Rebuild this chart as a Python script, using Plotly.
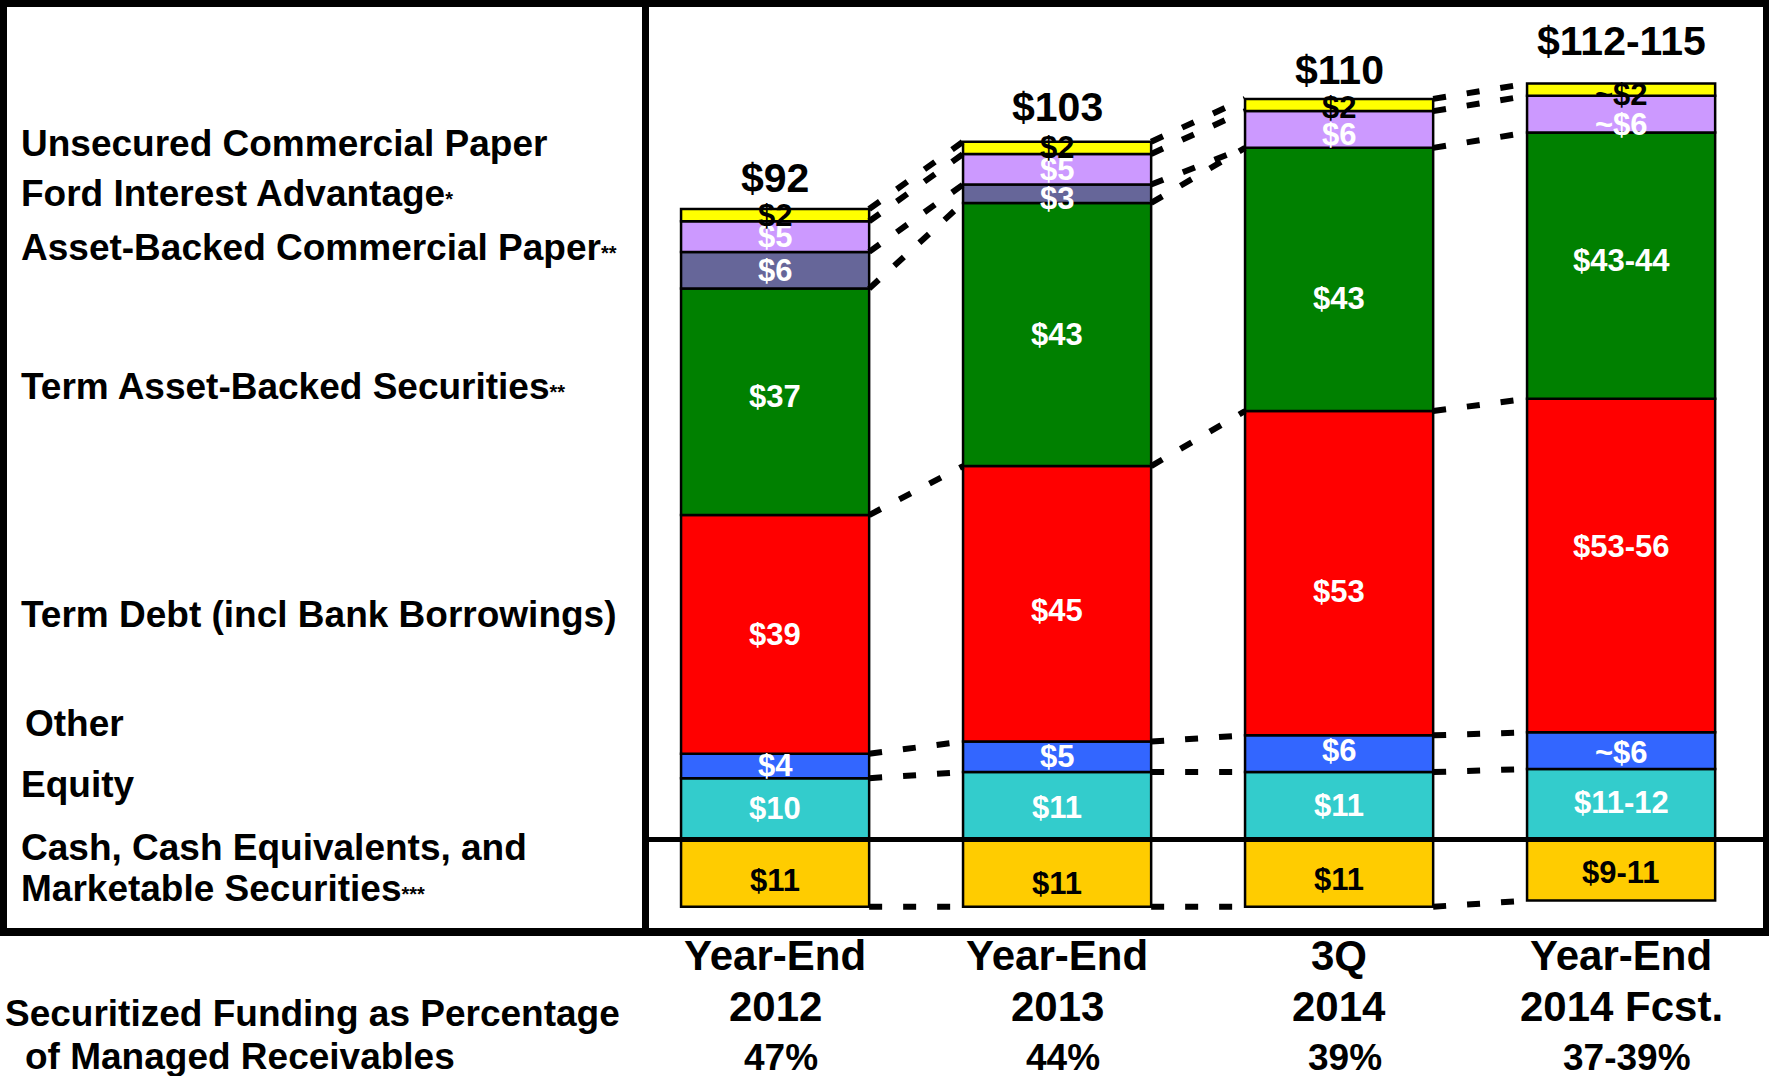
import plotly.graph_objects as go

# ---------------- data ----------------
categories_line1 = ["Year-End", "Year-End", "3Q", "Year-End"]
categories_line2 = ["2012", "2013", "2014", "2014 Fcst."]
securitized_pct = ["47%", "44%", "39%", "37-39%"]
totals = ["$92", "$103", "$110", "$112-115"]

cash = [11, 11, 11, 10]
equity = [10, 11, 11, 11.5]
other = [4, 5, 6, 6]
term_debt = [39, 45, 53, 54.5]
term_abs = [37, 43, 43, 43.5]
abcp = [6, 3, 0, 0]
fia = [5, 5, 6, 6]
ucp = [2, 2, 2, 2]

cash_lbl = ["$11", "$11", "$11", "$9-11"]
equity_lbl = ["$10", "$11", "$11", "$11-12"]
other_lbl = ["$4", "$5", "$6", "~$6"]
debt_lbl = ["$39", "$45", "$53", "$53-56"]
abs_lbl = ["$37", "$43", "$43", "$43-44"]
abcp_lbl = ["$6", "$3", "", ""]
fia_lbl = ["$5", "$5", "$6", "~$6"]
ucp_lbl = ["$2", "$2", "$2", "~$2"]

# ---------------- layout constants ----------------
W, H = 1769, 1076
FONT = "Liberation Sans, Arial, Helvetica, sans-serif"
BAR_W = 0.667
X_UNIT = 282.0          # px per category
X0_PX = 775.1           # px of first category
Y_UNIT = 6.12           # px per $bn
Y0_PX = 839.4           # px of zero line

xr = [(0 - X0_PX) / X_UNIT, (W - X0_PX) / X_UNIT]
yr = [-(H - Y0_PX) / Y_UNIT, Y0_PX / Y_UNIT]

def px(x):
    return x / W

def py(y):
    return 1 - y / H

xs = list(range(len(cash)))

# (name, values, labels, fill colour, label colour, label nudges in px, +down)
series = [
    ("Cash", [-v for v in cash], cash_lbl, "#FFCC00", "black", [7, 10, 6, 2]),
    ("Equity", equity, equity_lbl, "#33CCCC", "white", [0, 2, 0, -2]),
    ("Other", other, other_lbl, "#3366FF", "white", [0, 0, -3, 2]),
    ("Term Debt", term_debt, debt_lbl, "#FF0000", "white", [0, 7, 18, -19]),
    ("Term ABS", term_abs, abs_lbl, "#008000", "white", [-5, 0, 19, -5]),
    ("ABCP", abcp, abcp_lbl, "#666699", "white", [0, 5, 0, 0]),
    ("FIA", fia, fia_lbl, "#CC99FF", "white", [0, 0, 5, 10]),
    ("Unsecured CP", ucp, ucp_lbl, "#FFFF00", "black", [0, 0, 2, 5]),
]

fig = go.Figure()
ann = []
pos_base = [0.0] * len(xs)
for name, vals, lbls, color, tcolor, nudge in series:
    fig.add_trace(go.Bar(
        x=xs, y=vals, name=name, width=BAR_W,
        marker=dict(color=color, line=dict(color="black", width=2.5)),
        hoverinfo="skip",
    ))
    for i in xs:
        if vals[i] < 0:
            mid = vals[i] / 2
        else:
            mid = pos_base[i] + vals[i] / 2
            pos_base[i] += vals[i]
        if lbls[i]:
            ann.append(dict(x=xs[i], y=mid, xref="x", yref="y", text=f"<b>{lbls[i]}</b>",
                            showarrow=False, yanchor="middle", yshift=-nudge[i],
                            font=dict(family=FONT, size=31, color=tcolor)))

# ---------------- connector dashed lines ----------------
bounds = []
for i in xs:
    b = [-cash[i], 0]
    acc = 0
    for s in [equity, other, term_debt, term_abs, abcp, fia, ucp]:
        acc += s[i]
        b.append(acc)
    bounds.append(b)

cx, cy = [], []
for i in range(len(xs) - 1):
    seen = set()
    for j in range(len(bounds[i])):
        if j == 1:
            continue
        pair = (bounds[i][j], bounds[i + 1][j])
        if pair in seen:
            continue
        seen.add(pair)
        cx += [xs[i] + BAR_W / 2, xs[i + 1] - BAR_W / 2, None]
        cy += [pair[0], pair[1], None]

fig.add_trace(go.Scatter(
    x=cx, y=cy, mode="lines",
    line=dict(color="black", width=6, dash="13px,21px"),
    hoverinfo="skip", showlegend=False,
))

# ---------------- annotations ----------------
tops = [bounds[i][-1] for i in xs]
lift = [31, 35, 29, 43]
for i in xs:
    ann.append(dict(x=xs[i], y=tops[i], xref="x", yref="y", text=f"<b>{totals[i]}</b>",
                    showarrow=False, yanchor="middle", yshift=lift[i],
                    font=dict(family=FONT, size=41, color="black")))
    ann.append(dict(x=xs[i], y=py(955.6), xref="x", yref="paper",
                    text=f"<b>{categories_line1[i]}</b>", showarrow=False,
                    yanchor="middle", font=dict(family=FONT, size=42, color="black")))
    ann.append(dict(x=xs[i], y=py(1006.4), xref="x", yref="paper",
                    text=f"<b>{categories_line2[i]}</b>", showarrow=False,
                    yanchor="middle", font=dict(family=FONT, size=42, color="black")))
    ann.append(dict(x=xs[i], y=py(1057), xref="x", yref="paper", xshift=6,
                    text=f"<b>{securitized_pct[i]}</b>", showarrow=False,
                    yanchor="middle", font=dict(family=FONT, size=37, color="black")))

SUP = "<span style='font-size:20px'>{}</span>"
left_labels = [
    ("Unsecured Commercial Paper", 19, 143),
    ("Ford Interest Advantage" + SUP.format("*"), 19, 193),
    ("Asset-Backed Commercial Paper" + SUP.format("**"), 19, 247),
    ("Term Asset-Backed Securities" + SUP.format("**"), 19, 386),
    ("Term Debt (incl Bank Borrowings)", 19, 614),
    ("Other", 23, 724),
    ("Equity", 19, 784),
    ("Cash, Cash Equivalents, and", 19, 847),
    ("Marketable Securities" + SUP.format("***"), 19, 888),
    ("Securitized Funding as Percentage", 3, 1013),
    ("of Managed Receivables", 23, 1056),
]
for t, x, y in left_labels:
    ann.append(dict(x=px(x), y=py(y), xref="paper", yref="paper", text=f"<b>{t}</b>",
                    showarrow=False, xanchor="left", yanchor="middle",
                    font=dict(family=FONT, size=37, color="black")))

# ---------------- frame lines ----------------
shapes = [
    dict(type="line", xref="paper", yref="paper", x0=0, x1=1, y0=py(3.5), y1=py(3.5),
         line=dict(color="black", width=7)),
    dict(type="line", xref="paper", yref="paper", x0=px(3.5), x1=px(3.5), y0=py(0), y1=py(936),
         line=dict(color="black", width=7)),
    dict(type="line", xref="paper", yref="paper", x0=px(1766), x1=px(1766), y0=py(0), y1=py(936),
         line=dict(color="black", width=6)),
    dict(type="line", xref="paper", yref="paper", x0=0, x1=1, y0=py(932), y1=py(932),
         line=dict(color="black", width=8)),
    dict(type="line", xref="paper", yref="paper", x0=px(645.5), x1=px(645.5), y0=py(0), y1=py(932),
         line=dict(color="black", width=7)),
    dict(type="line", xref="paper", yref="y", x0=px(645), x1=px(1766), y0=0, y1=0,
         line=dict(color="black", width=5)),
]

fig.update_layout(
    width=W, height=H, autosize=False,
    margin=dict(l=0, r=0, t=0, b=0, pad=0),
    paper_bgcolor="white", plot_bgcolor="white",
    barmode="relative", showlegend=False,
    xaxis=dict(range=xr, visible=False, fixedrange=True),
    yaxis=dict(range=yr, visible=False, fixedrange=True),
    annotations=ann, shapes=shapes,
    font=dict(family=FONT),
)

fig.write_html("out.html", config={"displayModeBar": False},
               post_script="document.body.style.margin='0';document.body.style.overflow='hidden';")
